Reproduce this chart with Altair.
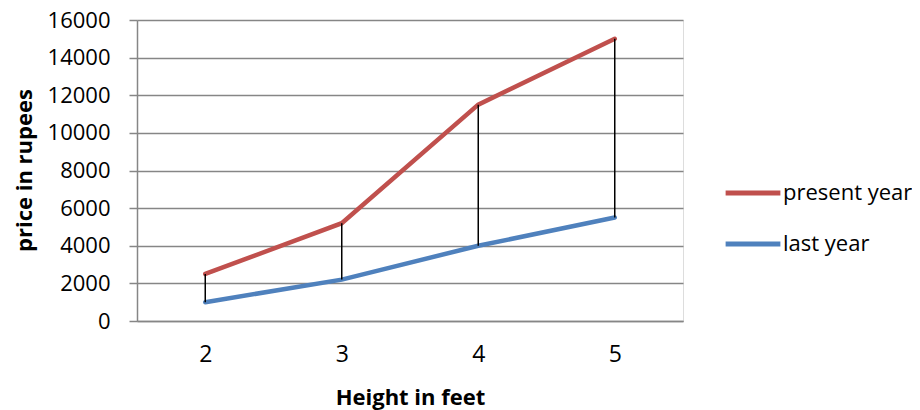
import altair as alt
import pandas as pd

heights = [2, 3, 4, 5]
present_year = [2500, 5200, 11500, 15000]
last_year = [1000, 2200, 4000, 5500]
series_names = ["present year", "last year"]
series_colors = ["#C0504D", "#4F81BD"]
y_ticks = [0, 2000, 4000, 6000, 8000, 10000, 12000, 14000, 16000]

wide = pd.DataFrame({"h": heights, "present": present_year, "last": last_year})
long = pd.concat([
    pd.DataFrame({"h": heights, "price": present_year, "series": series_names[0]}),
    pd.DataFrame({"h": heights, "price": last_year, "series": series_names[1]}),
])

FONT = "Open Sans"
GRID = "#868686"

x_scale = alt.Scale(domain=[1.5, 5.5], nice=False, zero=False)
y_scale = alt.Scale(domain=[0, 16000], nice=False)

x_axis = alt.Axis(values=heights, format="d", grid=False, ticks=False,
                  labelOverlap=False,
                  domainColor=GRID, domainWidth=1.5,
                  labelFontSize=23, labelFont=FONT, labelColor="black",
                  labelPadding=22,
                  title="Height in feet", titleFont=FONT, titleFontSize=22,
                  titleFontWeight="bold", titleColor="black",
                  titleX=273, titleY=83, titleBaseline="alphabetic")
y_axis = alt.Axis(values=y_ticks, format="d", grid=True, gridColor=GRID, gridWidth=1.5,
                  labelOverlap=False, tickCount=9,
                  tickColor=GRID, tickSize=8, tickWidth=1.5,
                  domainColor=GRID, domainWidth=1.5,
                  labelFontSize=22, labelFont=FONT, labelColor="black",
                  labelPadding=19,
                  title="price in rupees", titleFont=FONT, titleFontSize=22,
                  titleFontWeight="bold", titleColor="black",
                  titleX=-113, titleY=150, titleBaseline="middle")

lines = alt.Chart(long).mark_line(strokeWidth=4.5, strokeCap="round").encode(
    x=alt.X("h:Q", scale=x_scale, axis=x_axis),
    y=alt.Y("price:Q", scale=y_scale, axis=y_axis),
    color=alt.Color("series:N",
                    scale=alt.Scale(domain=series_names, range=series_colors),
                    sort=series_names,
                    legend=alt.Legend(title=None, orient="none", legendX=586, legendY=143,
                                      symbolType="stroke", symbolSize=3000,
                                      symbolStrokeWidth=5, labelFontSize=22,
                                      labelFont=FONT, labelColor="black",
                                      labelOffset=0, rowPadding=10)),
)

rules = alt.Chart(wide).mark_rule(color="black", strokeWidth=1.5).encode(
    x=alt.X("h:Q", scale=x_scale, axis=x_axis),
    y=alt.Y("last:Q", scale=y_scale, axis=y_axis),
    y2="present:Q",
)

chart = alt.layer(lines, rules).properties(
    width=546, height=301,
    autosize=alt.AutoSizeParams(type="none"),
    padding={"left": 129, "top": 12, "right": 229, "bottom": 89},
).configure_view(stroke=None).configure_axis(labelOverlap=False).configure(background="white")

chart.save("out.html", embed_options={"renderer": "svg", "actions": False})
